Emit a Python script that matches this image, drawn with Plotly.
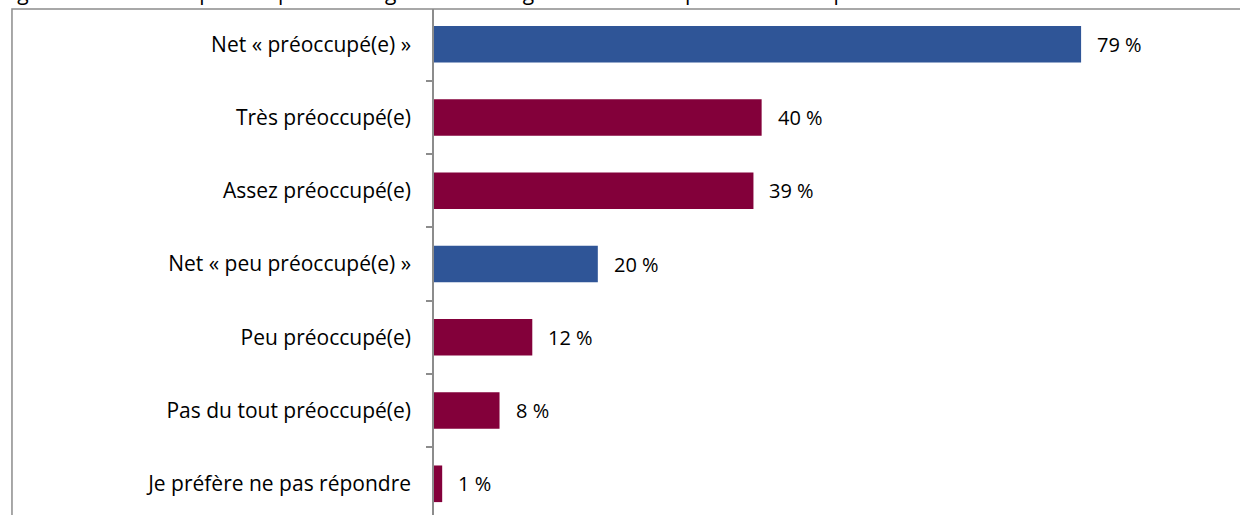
import plotly.graph_objects as go

categories = [
    "Net « préoccupé(e) »",
    "Très préoccupé(e)",
    "Assez préoccupé(e)",
    "Net « peu préoccupé(e) »",
    "Peu préoccupé(e)",
    "Pas du tout préoccupé(e)",
    "Je préfère ne pas répondre",
]
values = [79, 40, 39, 20, 12, 8, 1]
is_net = [True, False, False, True, False, False, False]
value_labels = [f"{v} %" for v in values]
title_text = "Figure 1 : Niveau de préoccupation à l'égard des changements climatiques chez les répondants"

BLUE = "#2F5597"
MAROON = "#83003A"
colors = [BLUE if n else MAROON for n in is_net]

FONT = "'Open Sans', Calibri, Carlito, sans-serif"

fig = go.Figure()
fig.add_trace(go.Bar(
    x=values, y=categories, orientation="h",
    marker=dict(color=colors, line=dict(width=0)),
    width=0.5, hoverinfo="skip",
))

for c, v, lab in zip(categories, values, value_labels):
    fig.add_annotation(
        x=v, y=c, text=lab, showarrow=False,
        xanchor="left", yanchor="middle", xshift=14,
        font=dict(family=FONT, size=20, color="#000000"),
    )

# partially visible caption at the very top
fig.add_annotation(
    xref="paper", yref="paper", x=-0.54, y=1.0,
    xanchor="left", yanchor="bottom", text=title_text, showarrow=False,
    font=dict(family=FONT, size=21, color="#000000"), yshift=1,
)

# frame around the chart
fig.add_shape(
    type="rect", xref="paper", yref="paper",
    x0=-0.5236, x1=1.05, y0=-0.1, y1=1.0,
    line=dict(color="#8C8C8C", width=1.5), fillcolor="rgba(0,0,0,0)", layer="below",
)

fig.update_layout(
    width=1240, height=515,
    margin=dict(l=434, r=0, t=9, b=0),
    plot_bgcolor="white", paper_bgcolor="white",
    showlegend=False,
    font=dict(family=FONT, size=21, color="#000000"),
    xaxis=dict(range=[0, 98.4], showgrid=False, zeroline=False,
               showticklabels=False, ticks="", showline=False),
    yaxis=dict(
        type="category", categoryorder="array", categoryarray=categories,
        range=[6.426, -0.482], showgrid=False, zeroline=False,
        showline=True, linecolor="#8C8C8C", linewidth=1.5,
        ticks="outside", ticklen=6, tickcolor="#8C8C8C", tickwidth=1.5,
        tickson="boundaries", ticklabelstandoff=17,
        tickfont=dict(family=FONT, size=21, color="#000000"),
    ),
)

fig.write_html(
    "out.html",
    config={"displayModeBar": False},
    post_script="document.body.style.margin='0';document.body.style.overflow='hidden';",
)
